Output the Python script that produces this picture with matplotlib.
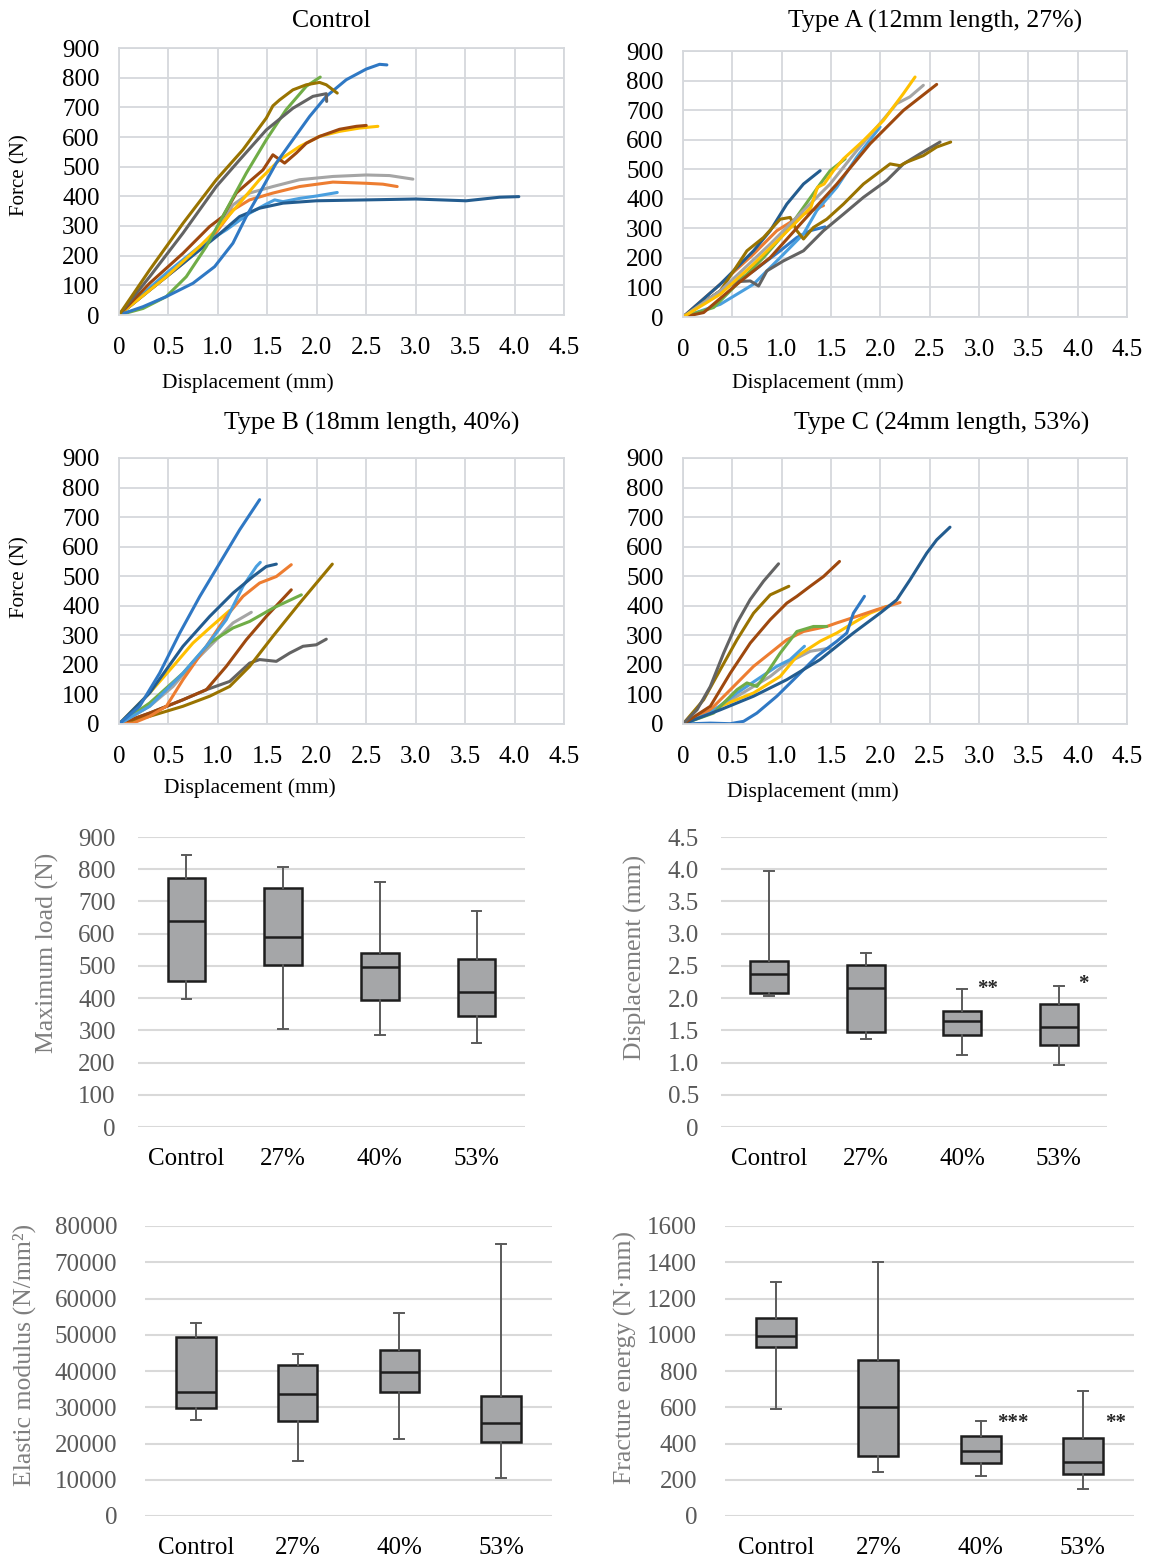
import numpy as np
import matplotlib
matplotlib.use("Agg")
import matplotlib.pyplot as plt

plt.rcParams['font.family'] = ['Liberation Serif', 'DejaVu Serif']

W, H = 1151, 1563

COLORS = {
    'blue': '#2F78C4', 'orange': '#ED7D31', 'gray': '#A5A5A5', 'gold': '#FFC000',
    'lightblue': '#4A9FDF', 'green': '#70AD47', 'darkblue': '#235C8F',
    'brown': '#9E480E', 'darkgray': '#636363', 'darkgold': '#997300',
}

# force-displacement curves: (colour, displacement mm, force N)
control_curves = [
    ('gray', [0, 0.31, 0.647, 0.95, 1.152, 1.32, 1.556, 1.826, 2.163, 2.5, 2.736, 2.972],
     [0, 84, 174, 270, 371, 411, 433, 456, 467, 472, 470, 458]),
    ('orange', [0, 0.31, 0.647, 0.95, 1.152, 1.32, 1.556, 1.826, 2.163, 2.5, 2.668, 2.813],
     [0, 84, 174, 264, 354, 388, 411, 433, 448, 444, 441, 433]),
    ('lightblue', [0, 0.478, 0.815, 1.085, 1.32, 1.49, 1.574, 1.658, 1.826, 1.995, 2.207],
     [0, 141, 231, 287, 343, 374, 388, 382, 393, 401, 413]),
    ('darkblue', [0, 0.31, 0.647, 0.984, 1.22, 1.42, 1.658, 1.995, 2.5, 3.0, 3.51, 3.848, 4.043],
     [0, 84, 174, 264, 332, 360, 377, 385, 388, 391, 385, 397, 399]),
    ('gold', [0, 0.478, 0.815, 0.984, 1.22, 1.42, 1.624, 1.826, 2.028, 2.23, 2.43, 2.618],
     [0, 129, 231, 287, 377, 456, 523, 568, 602, 619, 630, 636]),
    ('brown', [0, 0.31, 0.647, 0.916, 1.05, 1.186, 1.32, 1.456, 1.556, 1.675, 1.793, 1.894, 2.028, 2.23, 2.4, 2.5],
     [0, 107, 208, 298, 332, 411, 450, 489, 540, 512, 546, 579, 602, 626, 636, 639]),
    ('green', [0, 0.243, 0.478, 0.68, 0.883, 1.085, 1.287, 1.49, 1.69, 1.894, 2.035],
     [0, 22, 62, 129, 231, 354, 478, 591, 692, 771, 802]),
    ('blue', [0, 0.243, 0.478, 0.748, 0.967, 1.152, 1.287, 1.422, 1.59, 1.759, 1.927, 2.096, 2.298, 2.5, 2.635, 2.709],
     [0, 28, 62, 107, 163, 242, 332, 411, 512, 591, 669, 737, 793, 829, 845, 843]),
    ('darkgray', [0, 0.31, 0.647, 0.984, 1.22, 1.49, 1.759, 1.961, 2.096, 2.1],
     [0, 129, 276, 433, 523, 624, 697, 737, 746, 720]),
    ('darkgold', [0, 0.31, 0.647, 0.984, 1.253, 1.49, 1.556, 1.624, 1.759, 1.894, 2.028, 2.096, 2.207],
     [0, 152, 309, 456, 557, 664, 705, 725, 759, 776, 784, 776, 748]),
]

typeA_curves = [
    ('blue', [0, 0.378, 0.715, 0.985, 1.154, 1.289, 1.44],
     [0, 88, 156, 224, 269, 292, 305]),
    ('orange', [0, 0.378, 0.715, 0.951, 1.221, 1.424],
     [0, 111, 213, 292, 348, 377]),
    ('darkblue', [0, 0.378, 0.715, 0.884, 1.052, 1.221, 1.39],
     [0, 111, 224, 292, 382, 450, 495]),
    ('lightblue', [0, 0.378, 0.715, 0.985, 1.221, 1.356, 1.559, 1.761, 1.997],
     [0, 43, 111, 201, 281, 360, 439, 541, 643]),
    ('green', [0, 0.31, 0.547, 0.816, 1.052, 1.221, 1.39, 1.491, 1.643],
     [0, 32, 111, 201, 292, 371, 450, 495, 535]),
    ('darkgray', [0, 0.378, 0.547, 0.682, 0.766, 0.85, 1.019, 1.221, 1.424, 1.626, 1.829, 2.065, 2.234, 2.402, 2.605],
     [0, 88, 120, 122, 105, 156, 190, 224, 292, 348, 405, 462, 518, 552, 592]),
    ('darkgold', [0, 0.378, 0.648, 0.816, 0.985, 1.086, 1.154, 1.221, 1.322, 1.457, 1.626, 1.829, 1.964, 2.099, 2.2, 2.267, 2.436, 2.571, 2.713],
     [0, 88, 224, 269, 331, 337, 292, 264, 303, 331, 382, 450, 484, 518, 512, 524, 546, 575, 592]),
    ('brown', [0, 0.209, 0.547, 0.884, 1.221, 1.559, 1.896, 2.234, 2.571],
     [0, 15, 111, 201, 326, 450, 586, 699, 787]),
    ('gray', [0, 0.378, 0.884, 1.221, 1.491, 1.761, 1.964, 2.166, 2.3, 2.436],
     [0, 88, 247, 360, 450, 563, 642, 722, 745, 784]),
    ('gold', [0, 0.378, 0.715, 0.992, 1.195, 1.296, 1.363, 1.43, 1.525, 1.626, 1.829, 2.031, 2.234, 2.352],
     [0, 77, 179, 269, 337, 371, 439, 450, 495, 535, 597, 665, 756, 812]),
]

typeB_curves = [
    ('darkgray', [0, 0.31, 0.647, 0.883, 1.119, 1.321, 1.422, 1.591, 1.726, 1.861, 1.995, 2.096],
     [0, 37, 82, 116, 144, 206, 218, 212, 240, 263, 268, 287]),
    ('darkgold', [0, 0.31, 0.647, 0.917, 1.119, 1.321, 1.557, 1.827, 2.157],
     [0, 26, 60, 94, 127, 195, 297, 409, 541]),
    ('brown', [0, 0.31, 0.647, 0.883, 1.085, 1.287, 1.49, 1.742],
     [0, 37, 82, 116, 195, 285, 364, 454]),
    ('gray', [0, 0.31, 0.546, 0.748, 0.984, 1.153, 1.338],
     [0, 60, 127, 206, 285, 342, 378]),
    ('green', [0, 0.31, 0.647, 0.917, 1.153, 1.321, 1.557, 1.844],
     [0, 71, 172, 274, 325, 347, 392, 437]),
    ('gold', [0, 0.31, 0.546, 0.748, 0.917, 1.119],
     [0, 105, 195, 274, 325, 384]),
    ('orange', [0, 0.142, 0.31, 0.479, 0.647, 0.883, 1.085, 1.254, 1.422, 1.591, 1.742],
     [0, 3, 26, 60, 150, 263, 364, 432, 477, 499, 539]),
    ('lightblue', [0, 0.31, 0.647, 0.883, 1.085, 1.254, 1.389, 1.429],
     [0, 60, 172, 263, 353, 466, 533, 547]),
    ('darkblue', [0, 0.31, 0.647, 0.917, 1.153, 1.355, 1.49, 1.591],
     [0, 105, 263, 364, 443, 499, 533, 541]),
    ('blue', [0, 0.209, 0.411, 0.613, 0.816, 1.018, 1.22, 1.422],
     [0, 60, 172, 307, 431, 544, 657, 759]),
]

typeC_curves = [
    ('gray', [0, 0.378, 0.715, 0.884, 1.052, 1.289, 1.491],
     [0, 60, 127, 161, 206, 246, 257]),
    ('gold', [0, 0.378, 0.715, 0.985, 1.154, 1.39, 1.559, 1.727, 1.896, 2.065],
     [0, 60, 105, 161, 229, 280, 308, 342, 375, 398]),
    ('orange', [0, 0.277, 0.513, 0.715, 0.884, 1.052, 1.221, 1.457, 1.559, 1.761, 1.964, 2.2],
     [0, 48, 127, 195, 240, 285, 313, 330, 342, 364, 387, 411]),
    ('lightblue', [0, 0.277, 0.547, 0.749, 0.951, 1.086, 1.231],
     [0, 37, 105, 150, 195, 218, 263]),
    ('green', [0, 0.31, 0.445, 0.547, 0.648, 0.749, 0.85, 0.985, 1.154, 1.322, 1.457],
     [0, 37, 82, 116, 139, 127, 172, 240, 313, 330, 330]),
    ('blue', [0, 0.277, 0.479, 0.614, 0.749, 0.951, 1.154, 1.356, 1.559, 1.66, 1.727, 1.839],
     [0, 3, 1, 9, 37, 94, 161, 229, 280, 308, 375, 432]),
    ('darkblue', [0, 0.378, 0.715, 1.052, 1.39, 1.727, 1.997, 2.166, 2.301, 2.47, 2.571, 2.706],
     [0, 48, 94, 150, 218, 308, 375, 420, 488, 578, 623, 666]),
    ('brown', [0, 0.277, 0.479, 0.682, 0.884, 1.052, 1.154, 1.289, 1.424, 1.586],
     [0, 60, 172, 274, 353, 409, 432, 466, 499, 550]),
    ('darkgold', [0, 0.209, 0.378, 0.547, 0.715, 0.884, 1.073],
     [0, 82, 184, 285, 375, 437, 466]),
    ('darkgray', [0, 0.142, 0.277, 0.412, 0.547, 0.681, 0.816, 0.968],
     [0, 48, 127, 240, 342, 421, 483, 542]),
]

# box plot summaries
groups = ['Control', '27%', '40%', '53%']

load_low = [398, 305, 287, 260]
load_q1 = [453, 504, 394, 344]
load_med = [638, 589, 496, 419]
load_q3 = [774, 743, 541, 521]
load_high = [845, 807, 759, 670]

disp_low = [2.03, 1.37, 1.12, 0.96]
disp_q1 = [2.085, 1.47, 1.42, 1.28]
disp_med = [2.37, 2.16, 1.65, 1.55]
disp_q3 = [2.58, 2.52, 1.80, 1.91]
disp_high = [3.98, 2.695, 2.14, 2.19]
disp_marks = ['', '', '**', '*']

mod_low = [26400, 15300, 21300, 10500]
mod_q1 = [29700, 26200, 34100, 20400]
mod_med = [34100, 33600, 39600, 25700]
mod_q3 = [49300, 41700, 45900, 33100]
mod_high = [53200, 44600, 55900, 75100]

energy_low = [592, 245, 221, 151]
energy_q1 = [932, 333, 290, 230]
energy_med = [995, 601, 357, 298]
energy_q3 = [1090, 859, 441, 432]
energy_high = [1289, 1401, 524, 688]
energy_marks = ['', '', '***', '**']


def rect(x0, y0, x1, y1):
    return [x0 / W, 1 - y1 / H, (x1 - x0) / W, (y1 - y0) / H]


def ftext(x, y, s, **kw):
    fig.text(x / W, 1 - y / H, s, ha='center', va='center', **kw)


fig = plt.figure(figsize=(W / 100, H / 100), dpi=100)

grid_col = '#D5D8DC'


def line_panel(box, curves, title, title_xy, xlabel_xy, ylabel_xy=None):
    ax = fig.add_axes(rect(*box))
    ax.set_axisbelow(True)
    for c, xs, ys in curves:
        ax.plot(xs, ys, color=COLORS[c], lw=2.2, solid_joinstyle='round', solid_capstyle='round')
    ax.set_xlim(0, 4.5)
    ax.set_ylim(0, 900)
    xt = np.arange(0, 4.51, 0.5)
    ax.set_xticks(xt)
    ax.set_xticklabels(['0'] + [f'{v:.1f}' for v in xt[1:]])
    ax.set_yticks(range(0, 901, 100))
    ax.grid(True, color=grid_col, lw=1.3)
    for s in ax.spines.values():
        s.set_color(grid_col)
        s.set_linewidth(1.3)
    ax.tick_params(length=0, labelsize=18)
    ax.tick_params(axis='x', pad=16)
    ax.tick_params(axis='y', pad=14)
    ftext(*title_xy, title, fontsize=18.5)
    ftext(*xlabel_xy, 'Displacement (mm)', fontsize=15.5)
    if ylabel_xy:
        ftext(*ylabel_xy, 'Force (N)', fontsize=15, rotation=90)
    return ax


line_panel((119, 48, 564, 315), control_curves, 'Control', (331, 21), (248, 383), (20, 175))
line_panel((683, 51, 1127, 317), typeA_curves, 'Type A (12mm length, 27%)', (935, 21), (818, 383))
line_panel((119, 458, 564, 724), typeB_curves, 'Type B (18mm length, 40%)', (372, 423), (250, 788), (20, 577))
line_panel((683, 458, 1127, 724), typeC_curves, 'Type C (24mm length, 53%)', (942, 423), (813, 792))


def box_panel(box, low, q1, med, q3, high, top, step, labels, ylabel, ylabel_xy,
              marks=None, mark_dx=0.27, mark_y=None, ylpad=16):
    ax = fig.add_axes(rect(*box))
    ax.set_axisbelow(True)
    stats = [dict(whislo=a, q1=b, med=c, q3=d, whishi=e)
             for a, b, c, d, e in zip(low, q1, med, q3, high)]
    ax.bxp(stats, positions=range(len(stats)), widths=0.39, patch_artist=True,
           showfliers=False, capwidths=0.1,
           boxprops=dict(facecolor='#A5A6A8', edgecolor='#1E1E1E', lw=1.8),
           medianprops=dict(color='#1E1E1E', lw=1.8),
           whiskerprops=dict(color='#5A5A5A', lw=1.4),
           capprops=dict(color='#5A5A5A', lw=1.4))
    ax.set_xlim(-0.5, 3.5)
    ax.set_ylim(0, top)
    ticks = np.arange(0, top + step / 2, step)
    ax.set_yticks(ticks)
    ax.set_yticklabels(labels)
    ax.set_xticks(range(4))
    ax.set_xticklabels(groups)
    ax.yaxis.grid(True, color='#D9D9D9', lw=1.5)
    for s in ax.spines.values():
        s.set_visible(False)
    ax.tick_params(length=0, labelsize=18)
    ax.tick_params(axis='y', pad=ylpad, labelcolor='#595959')
    ax.tick_params(axis='x', pad=15, labelcolor='black')
    ftext(*ylabel_xy, ylabel, fontsize=18.5, rotation=90, color='#7F7F7F')
    if marks:
        for i, m in enumerate(marks):
            if m:
                ax.text(i + mark_dx, mark_y[i], m, fontsize=15, fontweight='bold',
                        ha='center', va='center', color='#262626')
    return ax


box_panel((138, 837, 525, 1127), load_low, load_q1, load_med, load_q3, load_high,
          900, 100, [str(v) for v in range(0, 901, 100)],
          'Maximum load (N)', (47, 953))

disp_labels = ['0'] + [f'{v:.1f}' for v in np.arange(0.5, 4.51, 0.5)]
box_panel((721, 837, 1107, 1127), disp_low, disp_q1, disp_med, disp_q3, disp_high,
          4.5, 0.5, disp_labels, 'Displacement (mm)', (635, 957),
          marks=disp_marks, mark_dx=0.26, mark_y=[0, 0, 2.14, 2.22])

box_panel((145, 1226, 552, 1516), mod_low, mod_q1, mod_med, mod_q3, mod_high,
          80000, 10000, [str(v) for v in range(0, 80001, 10000)],
          'Elastic modulus (N/mm²)', (24, 1355), ylpad=20)

box_panel((725, 1226, 1134, 1516), energy_low, energy_q1, energy_med, energy_q3, energy_high,
          1600, 200, [str(v) for v in range(0, 1601, 200)],
          'Fracture energy (N·mm)', (625, 1357),
          marks=energy_marks, mark_dx=0.32, mark_y=[0, 0, 515, 515], ylpad=20)

fig.savefig('out.png', dpi=100)
